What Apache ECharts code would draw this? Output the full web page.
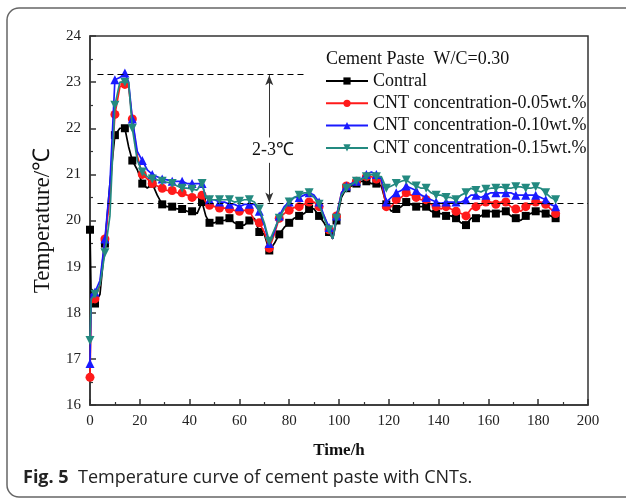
<!DOCTYPE html>
<html>
<head>
<meta charset="utf-8">
<script src="https://cdn.jsdelivr.net/npm/echarts@6/dist/echarts.min.js"></script>
<style>
  html, body { margin: 0; padding: 0; background: #fff; }
  #main { width: 626px; height: 500px; }
</style>
</head>
<body>
<div id="main"></div>
<script>
// time in hours (shared by all curves)
const hours = [0, 0.5, 2, 4, 6, 8, 10, 12, 14, 15.5, 17, 19, 21, 23, 25, 27, 29, 31, 33, 35,
  37, 39, 41, 43, 45, 46.5, 48, 50, 52, 54, 56, 58, 60, 62, 64, 66, 68, 70, 72, 74,
  76, 78, 80, 82, 84, 86, 88, 90, 92, 94, 96, 97.5, 99, 101, 103, 105, 107, 109, 111, 113,
  115, 117, 119, 121, 123, 125, 127, 129, 131, 133, 135, 137, 139, 141, 143, 145, 147, 149, 151, 153,
  155, 157, 159, 161, 163, 165, 167, 169, 171, 173, 175, 177, 179, 181, 183, 185, 187, 188]

const contral = [19.8, 18.2, 18.2, 18.4, 19.5, 20.8, 21.85, 22.0, 22.0, 21.6, 21.3, 21.1, 20.8, 20.7, 20.8, 20.55, 20.35, 20.3, 20.3, 20.25,
  20.25, 20.2, 20.2, 20.15, 20.4, 20.1, 19.95, 19.95, 20.0, 20.0, 20.05, 19.95, 19.9, 19.9, 20.0, 20.05, 19.75, 19.7, 19.35, 19.5,
  19.7, 19.85, 19.95, 20.05, 20.1, 20.15, 20.25, 20.25, 20.1, 19.95, 19.75, 19.6, 20.0, 20.5, 20.7, 20.75, 20.8, 20.85, 20.85, 20.8,
  20.8, 20.75, 20.35, 20.2, 20.25, 20.3, 20.4, 20.35, 20.3, 20.3, 20.3, 20.2, 20.15, 20.15, 20.1, 20.1, 20.05, 19.95, 19.9, 20.05,
  20.05, 20.1, 20.15, 20.2, 20.15, 20.2, 20.2, 20.1, 20.05, 20.0, 20.1, 20.15, 20.2, 20.2, 20.15, 20.1, 20.05, 20.1]

const cnt005 = [16.6, 18.2, 18.3, 18.6, 19.6, 20.5, 22.3, 22.9, 22.95, 22.9, 22.2, 21.4, 21.0, 20.9, 20.8, 20.75, 20.7, 20.65, 20.65, 20.6,
  20.6, 20.55, 20.5, 20.5, 20.55, 20.4, 20.33, 20.3, 20.27, 20.27, 20.25, 20.22, 20.2, 20.22, 20.22, 20.0, 19.95, 19.75, 19.4, 19.7,
  20.05, 20.15, 20.22, 20.28, 20.3, 20.35, 20.4, 20.4, 20.3, 20.1, 19.8, 19.6, 20.1, 20.6, 20.75, 20.8, 20.85, 20.9, 20.95, 20.95,
  20.9, 20.85, 20.3, 20.3, 20.45, 20.5, 20.6, 20.55, 20.5, 20.45, 20.45, 20.35, 20.3, 20.25, 20.3, 20.25, 20.2, 20.15, 20.1, 20.25,
  20.3, 20.33, 20.4, 20.4, 20.35, 20.4, 20.4, 20.3, 20.25, 20.2, 20.3, 20.35, 20.4, 20.4, 20.35, 20.25, 20.15, 20.2]

const cnt010 = [16.9, 18.4, 18.45, 18.7, 19.6, 20.8, 23.05, 23.1, 23.2, 23.0, 22.2, 21.5, 21.3, 21.1, 21.0, 20.95, 20.9, 20.88, 20.85, 20.85,
  20.85, 20.8, 20.8, 20.8, 20.8, 20.5, 20.45, 20.45, 20.4, 20.4, 20.35, 20.35, 20.3, 20.35, 20.35, 20.35, 20.2, 19.9, 19.5, 19.75,
  20.1, 20.3, 20.4, 20.5, 20.5, 20.55, 20.6, 20.55, 20.4, 20.1, 19.85, 19.6, 20.1, 20.6, 20.75, 20.8, 20.85, 20.9, 21.0, 21.05,
  21.0, 20.9, 20.4, 20.5, 20.6, 20.65, 20.75, 20.7, 20.65, 20.55, 20.5, 20.45, 20.4, 20.37, 20.4, 20.4, 20.4, 20.4, 20.45, 20.55,
  20.55, 20.5, 20.55, 20.6, 20.6, 20.6, 20.6, 20.6, 20.55, 20.55, 20.55, 20.55, 20.55, 20.5, 20.45, 20.35, 20.3, 20.3]

const cnt015 = [17.4, 18.3, 18.4, 18.6, 19.3, 20.1, 22.5, 23.0, 23.0, 23.0, 22.0, 21.3, 21.05, 20.95, 20.9, 20.88, 20.85, 20.83, 20.8, 20.75,
  20.7, 20.7, 20.68, 20.66, 20.8, 20.5, 20.45, 20.45, 20.45, 20.45, 20.45, 20.4, 20.42, 20.45, 20.45, 20.4, 20.25, 19.95, 19.55, 19.8,
  20.05, 20.25, 20.4, 20.5, 20.55, 20.6, 20.6, 20.5, 20.35, 20.05, 19.8, 19.6, 20.05, 20.55, 20.7, 20.78, 20.85, 20.9, 20.95, 21.0,
  20.95, 20.95, 20.7, 20.75, 20.8, 20.85, 20.88, 20.8, 20.75, 20.7, 20.7, 20.6, 20.55, 20.55, 20.5, 20.5, 20.45, 20.55, 20.6, 20.7,
  20.65, 20.62, 20.68, 20.7, 20.7, 20.73, 20.7, 20.7, 20.73, 20.73, 20.7, 20.7, 20.73, 20.7, 20.6, 20.5, 20.45, 20.45]

const seriesNames = ['Contral', 'CNT concentration-0.05wt.%', 'CNT concentration-0.10wt.%', 'CNT concentration-0.15wt.%']
const seriesValues = [contral, cnt005, cnt010, cnt015]
const colors = ['#000000', '#ff1a1a', '#1a1aff', '#238a80']
const symbols = ['rect', 'circle', 'triangle', 'triangle']
const rotates = [0, 0, 0, 180]

// reference levels marked with dashed lines
const peakLevel = 23.17
const baseLevel = 20.37
const arrowAt = 72

const serif = 'Liberation Serif, Times New Roman, serif'

const chart = echarts.init(document.getElementById('main'))

const series = seriesValues.map((vals, k) => ({
  name: seriesNames[k],
  type: 'line',
  data: hours.map((h, i) => [h, vals[i]]),
  symbol: symbols[k],
  symbolRotate: rotates[k],
  symbolSize: (v, p) => (p.dataIndex % 2 === 0 ? (k === 0 ? 8 : 9) : 0),
  showAllSymbol: true,
  lineStyle: { color: colors[k], width: 1.7 },
  itemStyle: { color: colors[k] },
  z: 2 + k,
}))

series[0].markLine = {
  silent: true,
  animation: false,
  label: { show: false },
  symbol: ['none', 'none'],
  data: [
    [{ coord: [3, peakLevel], lineStyle: { type: [6, 4], color: '#000', width: 1.2 } }, { coord: [87, peakLevel] }],
    [{ coord: [3, baseLevel], lineStyle: { type: [6, 4], color: '#000', width: 1.2 } }, { coord: [200, baseLevel] }],
    [{ coord: [arrowAt, 21.8], symbol: 'none', lineStyle: { type: 'solid', color: '#333', width: 1 } },
     { coord: [arrowAt, peakLevel - 0.02], symbol: 'arrow', symbolSize: [6, 10] }],
    [{ coord: [arrowAt, 21.25], symbol: 'none', lineStyle: { type: 'solid', color: '#333', width: 1 } },
     { coord: [arrowAt, baseLevel + 0.02], symbol: 'arrow', symbolSize: [6, 10] }],
  ],
}
series[0].markPoint = {
  silent: true,
  animation: false,
  data: [{
    coord: [arrowAt + 1.5, 21.52],
    symbol: 'rect',
    symbolSize: 0,
    label: { show: true, position: 'inside', formatter: '2-3℃', color: '#111', fontSize: 18, fontFamily: serif },
  }],
}

chart.setOption({
  animation: false,
  backgroundColor: '#fff',
  title: {
    text: 'Cement Paste  W/C=0.30',
    left: 321,
    top: 45,
    textStyle: { fontFamily: serif, fontSize: 18, fontWeight: 'normal', color: '#111' },
  },
  legend: {
    orient: 'vertical',
    left: 320,
    top: 67,
    itemWidth: 42,
    itemHeight: 9,
    itemGap: 4.3,
    data: seriesNames,
    textStyle: { fontFamily: serif, fontSize: 18, color: '#111', lineHeight: 18 },
  },
  grid: {
    left: 90, right: 38, top: 36, bottom: 95,
    show: true, borderColor: '#333', borderWidth: 1.5, backgroundColor: 'transparent',
  },
  xAxis: {
    type: 'value',
    min: 0, max: 200, interval: 20,
    name: 'Time/h',
    nameLocation: 'middle',
    nameGap: 37,
    nameTextStyle: { fontFamily: serif, fontSize: 17, fontWeight: 'bold', color: '#111' },
    axisLine: { lineStyle: { color: '#333', width: 1.5 } },
    axisTick: { inside: true, length: 6, lineStyle: { color: '#333', width: 1.5 } },
    minorTick: { show: true, splitNumber: 2, length: 3, lineStyle: { color: '#333', width: 1.2 } },
    splitLine: { show: false },
    axisLabel: { fontFamily: serif, fontSize: 15, color: '#222', margin: 9 },
  },
  yAxis: {
    type: 'value',
    min: 16, max: 24, interval: 1,
    name: 'Temperature/℃',
    nameLocation: 'middle',
    nameGap: 36,
    nameTextStyle: { fontFamily: serif, fontSize: 23, color: '#111' },
    axisLine: { lineStyle: { color: '#333', width: 1.5 } },
    axisTick: { inside: true, length: 6, lineStyle: { color: '#333', width: 1.5 } },
    minorTick: { show: true, splitNumber: 2, length: 3, lineStyle: { color: '#333', width: 1.2 } },
    splitLine: { show: false },
    axisLabel: { fontFamily: serif, fontSize: 15, color: '#222', margin: 9 },
  },
  graphic: [
    {
      type: 'rect',
      shape: { x: 7, y: 8, width: 630, height: 489, r: 12 },
      style: { fill: 'none', stroke: '#666', lineWidth: 1.5 },
      silent: true,
    },
    {
      type: 'text',
      x: 23,
      y: 478,
      style: {
        text: '{b|Fig. 5}  Temperature curve of cement paste with CNTs.',
        fontFamily: 'Open Sans, sans-serif',
        fontSize: 18,
        fill: '#222',
        verticalAlign: 'middle',
        rich: { b: { fontWeight: 'bold', fontFamily: 'Open Sans, sans-serif', fontSize: 18, fill: '#222' } },
      },
    },
  ],
  series: series,
})
</script>
</body>
</html>
